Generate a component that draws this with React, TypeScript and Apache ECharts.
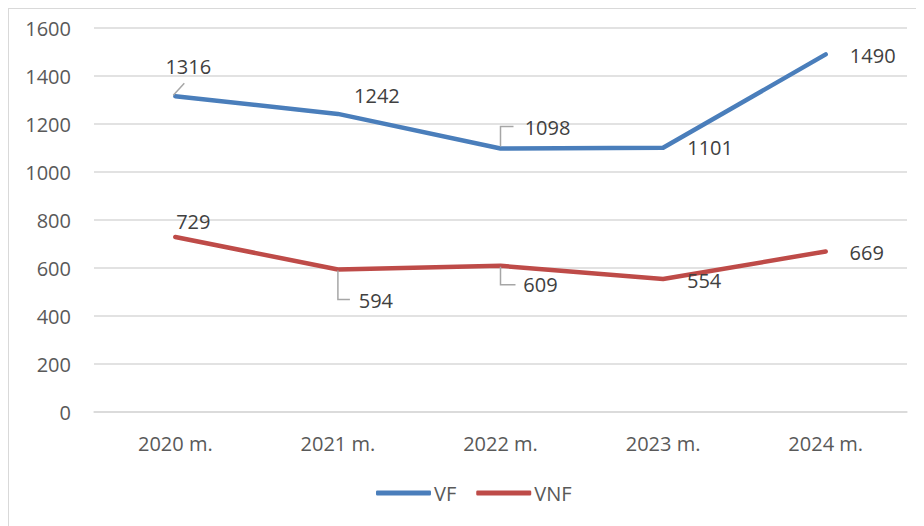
import React, { useEffect, useRef } from "react";
import * as echarts from "echarts";

const categories = ["2020 m.", "2021 m.", "2022 m.", "2023 m.", "2024 m."];
const vfValues = [1316, 1242, 1098, 1101, 1490];
const vnfValues = [729, 594, 609, 554, 669];
const seriesNames = ["VF", "VNF"];
const yMin = 0;
const yMax = 1600;
const yInterval = 200;

// label offsets (pixels from the point), per series
const vfLabelOffsets = [[13, -30], [39, -18], [47, -21], [47, 0], [47, 1]];
const vnfLabelOffsets = [[18, -16], [38, 31], [40, 19], [41, 1], [41, 1]];

// leader lines: [seriesIndex, dataIndex, relative points]
const leaders: [number, number, number[][]][] = [
  [0, 0, [[-2, -1], [9, -13]]],
  [0, 2, [[0, -2], [0, -22], [13, -22]]],
  [1, 1, [[0, 1], [0, 30], [12, 30]]],
  [1, 2, [[0, 1], [0, 19], [15, 19]]],
];

const BLUE = "#4A7EBB";
const RED = "#BE4B48";
const FONT = "'Open Sans', sans-serif";

export default function App() {
  const ref = useRef<HTMLDivElement>(null);
  useEffect(() => {
    if (!ref.current) return;
    const chart = echarts.init(ref.current, null, { renderer: "svg" });
    const mkData = (vals: number[], offs: number[][]) =>
      vals.map((v, i) => ({
        value: v,
        label: { offset: offs[i] },
      }));
    const mkSeries = (name: string, color: string, vals: number[], offs: number[][]) => ({
      name,
      type: "line",
      data: mkData(vals, offs),
      symbol: "circle",
      symbolSize: 1,
      showSymbol: true,
      itemStyle: { color },
      lineStyle: { color, width: 4.5, cap: "round", join: "round" },
      label: {
        show: true,
        position: "inside",
        align: "center",
        verticalAlign: "middle",
        color: "#404040",
        fontSize: 20,
        fontFamily: FONT,
      },
      emphasis: { disabled: true },
      z: 3,
    });
    chart.setOption({
      animation: false,
      backgroundColor: "#ffffff",
      grid: { left: 85, top: 19, width: 813, height: 384 },
      xAxis: {
        type: "category",
        data: categories,
        boundaryGap: true,
        axisLine: { show: true, lineStyle: { color: "#d9d9d9", width: 1.5 } },
        axisTick: { show: false },
        axisLabel: { color: "#595959", fontSize: 20, fontFamily: FONT, margin: 21 },
      },
      yAxis: {
        type: "value",
        min: yMin,
        max: yMax,
        interval: yInterval,
        axisLine: { show: false },
        axisTick: { show: false },
        splitLine: { lineStyle: { color: "#d9d9d9", width: 1.5 } },
        axisLabel: {
          color: "#595959",
          fontSize: 20,
          fontFamily: FONT,
          margin: 23,
          formatter: (v: number) => String(v),
        },
      },
      legend: {
        data: seriesNames,
        left: 362,
        top: 469,
        icon: "roundRect",
        itemWidth: 55,
        itemHeight: 5,
        itemGap: 20,
        textStyle: { color: "#595959", fontSize: 20, fontFamily: FONT, padding: [0, 0, 0, -2] },
      },
      series: [
        mkSeries(seriesNames[0], BLUE, vfValues, vfLabelOffsets),
        mkSeries(seriesNames[1], RED, vnfValues, vnfLabelOffsets),
      ],
    });
    const all = [vfValues, vnfValues];
    const graphics = leaders.map(([s, i, pts]) => {
      const p = chart.convertToPixel({ seriesIndex: s }, [i, all[s][i]]) as number[];
      return {
        type: "polyline",
        silent: true,
        z: 10,
        shape: { points: pts.map(([dx, dy]) => [p[0] + dx, p[1] + dy]) },
        style: { stroke: "#a6a6a6", lineWidth: 1.5, fill: null },
      };
    });
    chart.setOption({ graphic: graphics });
    return () => chart.dispose();
  }, []);
  return (
    <div
      style={{
        width: 916,
        height: 518,
        borderLeft: "1px solid #d9d9d9",
        borderTop: "1px solid #d9d9d9",
        boxSizing: "border-box",
      }}
    >
      <div ref={ref} style={{ width: 915, height: 517 }} />
    </div>
  );
}
